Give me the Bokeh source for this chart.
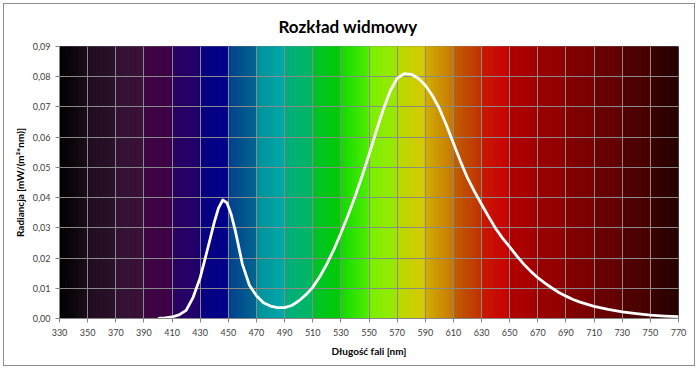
from bokeh.plotting import figure
from bokeh.models import FixedTicker, CustomJSTickFormatter, Range1d
from bokeh.embed import file_html
from bokeh.resources import INLINE

# ---- data ----
wavelength = [400, 405, 410, 415, 420, 425, 430, 435,
              440, 443, 446, 449, 452, 455, 460, 465, 470, 475,
              480, 485, 490, 495, 500, 505, 510, 515, 520, 525,
              530, 535, 540, 545, 550, 555, 560, 565, 570, 575,
              580, 585, 590, 595, 600, 605, 610, 615, 620, 625,
              630, 635, 640, 645, 650, 655, 660, 665, 670, 675,
              680, 685, 690, 695, 700, 710, 720, 730, 740, 750,
              760, 770]
radiance = [0.0, 0.0002, 0.0005, 0.0012, 0.0027, 0.007, 0.0135, 0.0225,
            0.0318, 0.0365, 0.0392, 0.0383, 0.0345, 0.029, 0.018, 0.011, 0.0075, 0.0052,
            0.0041, 0.0036, 0.0036, 0.0043, 0.0058, 0.0078, 0.0103, 0.0138, 0.018, 0.0228,
            0.0282, 0.034, 0.0402, 0.047, 0.0542, 0.0618, 0.069, 0.0752, 0.0795, 0.081,
            0.0808, 0.0795, 0.0772, 0.0738, 0.0695, 0.064, 0.058, 0.052, 0.0465, 0.042,
            0.0378, 0.0337, 0.0298, 0.0265, 0.0237, 0.0207, 0.018, 0.0156, 0.0135, 0.0117,
            0.0101, 0.0086, 0.0074, 0.0063, 0.0054, 0.004, 0.003, 0.0022, 0.0016, 0.0011,
            0.0008, 0.0006]

x_ticks = list(range(330, 771, 20))
y_ticks = [0.00, 0.01, 0.02, 0.03, 0.04, 0.05, 0.06, 0.07, 0.08, 0.09]
band_starts = list(range(330, 770, 20))

# background spectrum: colour at left / right edge of each 20 nm band
band_left = ["#000000", "#1e0c1e", "#321234", "#3e0640", "#2a0060", "#0a0080",
             "#003f8c", "#00909a", "#00ac80", "#00c030", "#10d800", "#78f000",
             "#b4dc00", "#d0b000", "#c06000", "#c81a00", "#b00000", "#980000",
             "#840000", "#6c0000", "#520000", "#3c0000"]
band_right = ["#1a0c1a", "#2c102c", "#3a1038", "#3d0046", "#20006c", "#00008a",
              "#006590", "#00a8a8", "#00b860", "#00cc00", "#50ee00", "#9ce800",
              "#d8c800", "#c87800", "#c03000", "#c80000", "#a40000", "#900000",
              "#780000", "#600000", "#480000", "#260000"]


def hex2rgb(h):
    return tuple(int(h[i:i + 2], 16) for i in (1, 3, 5))


def mix(a, b, t):
    ra, rb = hex2rgb(a), hex2rgb(b)
    return "#%02x%02x%02x" % tuple(int(round(ra[i] + (rb[i] - ra[i]) * t)) for i in range(3))


n_sub = 10
q_left, q_right, q_col = [], [], []
for i, s in enumerate(band_starts):
    w = (x_ticks[i + 1] - s) / n_sub
    for k in range(n_sub):
        q_left.append(s + k * w)
        q_right.append(s + (k + 1) * w)
        q_col.append(mix(band_left[i], band_right[i], (k + 0.5) / n_sub))

FONT = "Lato"

p = figure(width=692, height=363,
           x_range=Range1d(x_ticks[0], x_ticks[-1]),
           y_range=Range1d(y_ticks[0], y_ticks[-1]),
           output_backend="svg", toolbar_location=None,
           min_border_left=55, min_border_right=18,
           min_border_top=42, min_border_bottom=49)
p.styles = {"border": "1px solid #8c8c8c", "margin-left": "3px", "margin-top": "3px"}

p.title.text = "Rozkład widmowy"
p.title.align = "left"
p.title.offset = 219
p.title.text_font = FONT
p.title.text_font_size = "17px"
p.title.text_font_style = "bold"
p.title.text_color = "#000000"
p.title.standoff = 19

p.quad(left=q_left, right=q_right, bottom=y_ticks[0], top=y_ticks[-1],
       fill_color=q_col, line_color=q_col, line_width=1, level="image")

p.line(wavelength, radiance, line_color="white", line_width=2.8, line_join="round")

grid_col = "#8a8a8a"
p.xgrid.ticker = FixedTicker(ticks=x_ticks)
p.ygrid.ticker = FixedTicker(ticks=y_ticks)
for g in (p.xgrid, p.ygrid):
    g.grid_line_color = grid_col
    g.grid_line_width = 1
    g.grid_line_alpha = 1
p.outline_line_color = grid_col

p.xaxis.ticker = FixedTicker(ticks=x_ticks)
p.yaxis.ticker = FixedTicker(ticks=y_ticks)
p.yaxis.formatter = CustomJSTickFormatter(code="return tick.toFixed(2).replace('.', ',');")

for ax in (p.xaxis, p.yaxis):
    ax.axis_line_color = "#868686"
    ax.major_tick_line_color = "#868686"
    ax.minor_tick_line_color = None
    ax.major_tick_in = 0
    ax.major_tick_out = 4
    ax.major_label_text_font = FONT
    ax.major_label_text_font_size = "9px"
    ax.major_label_text_color = "#404040"
    ax.axis_label_text_font = FONT
    ax.axis_label_text_font_size = "10px"
    ax.axis_label_text_font_style = "bold"
    ax.axis_label_text_color = "#000000"

p.xaxis.axis_label = "Długość fali [nm]"
p.yaxis.axis_label = "Radiancja [mW/(m²*nm)]"
p.xaxis.major_label_standoff = 6
p.yaxis.major_label_standoff = 5
p.xaxis.axis_label_standoff = 6
p.yaxis.axis_label_standoff = 4

open("out.html", "w").write(file_html(p, INLINE))
